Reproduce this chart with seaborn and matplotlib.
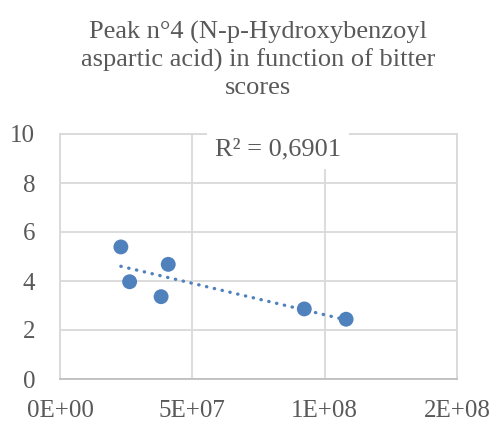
import numpy as np
import pandas as pd
import matplotlib
matplotlib.use("Agg")
import matplotlib.pyplot as plt
import seaborn as sns

# Peak area (x) vs. bitter score (y)
peak_area = [2.30e7, 2.63e7, 3.82e7, 4.09e7, 9.23e7, 1.081e8]
bitter_score = [5.39, 3.97, 3.36, 4.68, 2.86, 2.44]
x_ticks = [0, 5e7, 1e8, 1.5e8]
x_tick_labels = ["0E+00", "5E+07", "1E+08", "2E+08"]
y_ticks = [0, 2, 4, 6, 8, 10]
title = "Peak n°4 (N-p-Hydroxybenzoyl\naspartic acid) in function of bitter\nscores"
r2_label = "R² = 0,6901"

df = pd.DataFrame({"area": peak_area, "score": bitter_score})

sns.set_theme(style="white")
plt.rcParams["font.family"] = ["Liberation Serif", "DejaVu Serif"]

text_color = "#595959"
grid_color = "#D9D9D9"
point_color = "#4F81BD"

W, H = 497, 423
fig = plt.figure(figsize=(W / 100, H / 100), dpi=100)
ax = fig.add_axes([60 / W, 1 - 379 / H, (457 - 60) / W, (379 - 134) / H])

# Linear trendline over the data range
slope, intercept = np.polyfit(df["area"], df["score"], 1)
trend = pd.DataFrame({"area": [df["area"].min(), df["area"].max()]})
trend["score"] = slope * trend["area"] + intercept
sns.lineplot(data=trend, x="area", y="score", ax=ax, color=point_color,
             linewidth=2.4, linestyle=(0, (0.1, 2.3)), dash_capstyle="round",
             zorder=2)

sns.scatterplot(data=df, x="area", y="score", ax=ax, color=point_color,
                s=115, edgecolor="none", zorder=3)

ax.set_xlim(0, 1.5e8)
ax.set_ylim(0, 10)
ax.set_xticks(x_ticks)
ax.set_xticklabels(x_tick_labels)
ax.set_yticks(y_ticks)
ax.set_xlabel("")
ax.set_ylabel("")
ax.grid(True, color=grid_color, linewidth=1.3)
ax.set_axisbelow(True)
for side, spine in ax.spines.items():
    spine.set_visible(True)
    spine.set_color(grid_color)
    spine.set_linewidth(1.3)
ax.spines["bottom"].set_color("#BFBFBF")
ax.tick_params(axis="both", length=0, labelsize=18, labelcolor=text_color)
ax.tick_params(axis="x", pad=15)
ax.tick_params(axis="y", pad=18)

fig.text(258 / W, 1 - 60 / H, title, ha="center", va="center",
         fontsize=19, color=text_color, linespacing=1.3)

ax.text(0.549, 0.935, r2_label, transform=ax.transAxes, ha="center", va="center",
        fontsize=19, color=text_color, zorder=5,
        bbox=dict(boxstyle="square,pad=0.3", facecolor="white", edgecolor="none"))

fig.savefig("out.png", dpi=100)
